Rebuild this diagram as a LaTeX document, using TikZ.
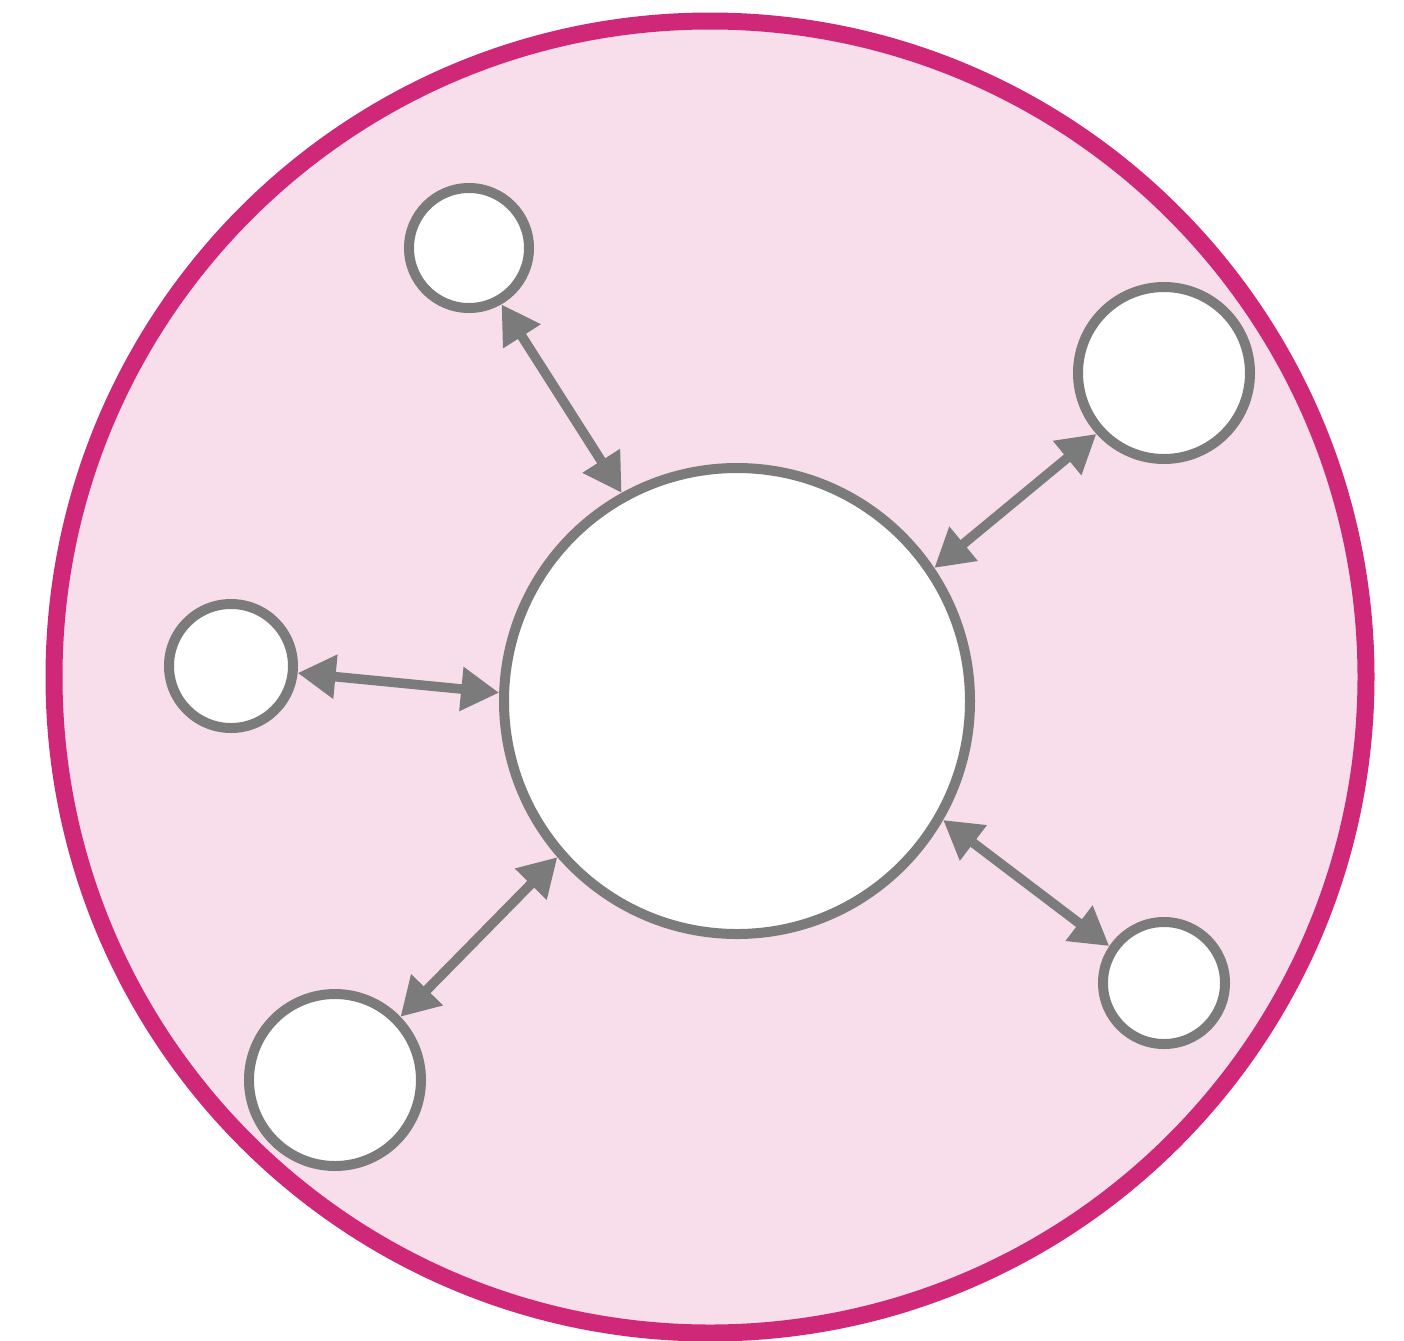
\documentclass[tikz,border=0pt]{standalone}
\usetikzlibrary{arrows.meta}

\definecolor{rimpink}{RGB}{208,40,120}
\definecolor{softpink}{RGB}{247,222,234}
\definecolor{linkgray}{RGB}{123,123,123}

\tikzset{every picture/.style={line width=0.75pt}}
\tikzset{
  hub/.style={circle,draw=linkgray,fill=white,line width=5pt,inner sep=0pt,minimum size=233pt},
  leaf/.style={circle,draw=linkgray,fill=white,line width=5pt,inner sep=0pt,minimum size=#1},
  link/.style={draw=linkgray,line width=4.8pt,{Triangle[length=19pt,width=21pt]}-{Triangle[length=19pt,width=21pt]}}
}

\begin{document}
\begin{tikzpicture}[x=0.5pt,y=0.5pt,yscale=-1,xscale=1]
\useasboundingbox (0,0) rectangle (1404,1340);

%Shape: Circle [id:outer]
\draw [draw=rimpink,fill=softpink,line width=8.5pt] (710,677) circle [radius=656];

% Center node
\node [hub] (core) at (737,701) {};
% Leaf nodes
\node [leaf=60pt] (topleft) at (469,248) {};
\node [leaf=86pt] (topright) at (1164,373) {};
\node [leaf=62pt] (left) at (231,666) {};
\node [leaf=86pt] (botleft) at (335,1080) {};
\node [leaf=61pt] (botright) at (1164,983) {};

% Links
\draw [link] (topleft.-60) -- (core.119);
\draw [link] (core.34) -- (topright.222);
\draw [link] (left.-6) -- (core.178);
\draw [link] (core.221) -- (botleft.44);
\draw [link] (core.-30) -- (botright.146);

\end{tikzpicture}
\end{document}
